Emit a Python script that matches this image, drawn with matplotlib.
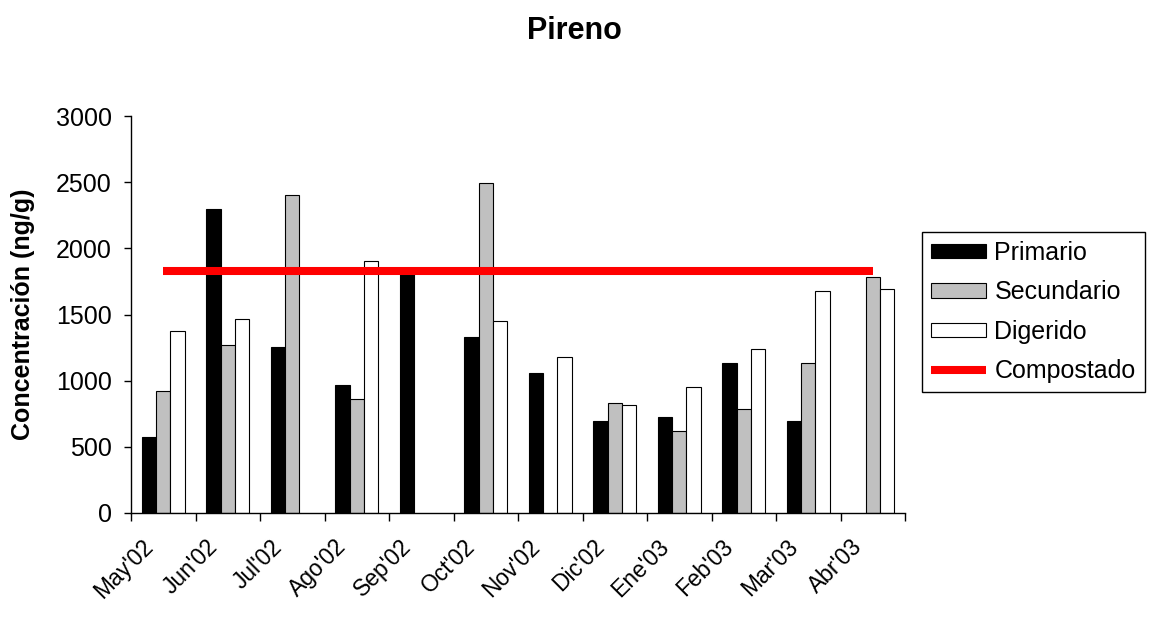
import numpy as np
import matplotlib
matplotlib.use('Agg')
import matplotlib.pyplot as plt

plt.rcParams['font.family'] = ['Liberation Sans', 'DejaVu Sans']

months = ["May'02", "Jun'02", "Jul'02", "Ago'02", "Sep'02", "Oct'02",
          "Nov'02", "Dic'02", "Ene'03", "Feb'03", "Mar'03", "Abr'03"]
nan = np.nan
primario = [576, 2300, 1258, 970, 1820, 1333, 1058, 697, 727, 1134, 697, nan]
secundario = [922, 1268, 2404, 859, nan, 2497, nan, 828, 616, 783, 1131, 1783]
digerido = [1374, 1465, nan, 1904, nan, 1449, 1177, 813, 949, 1237, 1677, 1692]
compostado = [1830] * 12

fig = plt.figure(figsize=(11.49, 6.17), dpi=100)
ax = fig.add_axes([131 / 1149, 1 - 513 / 617, 774 / 1149, 397 / 617])

x = np.arange(len(months))
w = 0.22
b1 = ax.bar(x - w, primario, w, color='black', edgecolor='black', linewidth=0.8, label='Primario')
b2 = ax.bar(x, secundario, w, color='#c0c0c0', edgecolor='black', linewidth=0.8, label='Secundario')
b3 = ax.bar(x + w, digerido, w, color='white', edgecolor='black', linewidth=0.8, label='Digerido')
l1, = ax.plot(x, compostado, color='#ff0000', linewidth=5.8, solid_capstyle='butt', label='Compostado', zorder=5)

ax.set_xlim(-0.5, 11.5)
ax.set_ylim(0, 3000)
ax.set_yticks(np.arange(0, 3001, 500))
ax.set_xticks(np.arange(-0.5, 12, 1))
ax.set_xticklabels([])
# invisible minor ticks carry the month names, a bit left of centre like Excel
ax.set_xticks(x - 0.34, minor=True)
ax.set_xticklabels(months, minor=True, rotation=45, ha='right', rotation_mode='anchor', fontsize=16.5)
ax.tick_params(axis='x', which='major', direction='out', length=6, width=1)
ax.tick_params(axis='x', which='minor', length=0, pad=16)
ax.tick_params(axis='y', direction='out', length=5, width=1, labelsize=18, pad=9)
for s in ['top', 'right']:
    ax.spines[s].set_visible(False)
for s in ['left', 'bottom']:
    ax.spines[s].set_linewidth(1)

ax.set_ylabel('Concentración (ng/g)', fontsize=18, fontweight='bold')
ax.yaxis.set_label_coords(-0.124, 0.5)

fig.text(0.5, 1 - 31 / 617, 'Pireno', fontsize=22, fontweight='bold', ha='center', va='center')

leg = fig.legend([b1, b2, b3, l1], ['Primario', 'Secundario', 'Digerido', 'Compostado'],
                 loc='upper left', bbox_to_anchor=(922 / 1149, 1 - 232 / 617),
                 fontsize=18, frameon=True, fancybox=False, framealpha=1,
                 edgecolor='black', borderpad=0.35, handlelength=2.2, handleheight=0.5,
                 handletextpad=0.35, labelspacing=0.62, borderaxespad=0)
leg.get_frame().set_linewidth(1)

plt.savefig('out.png', dpi=100)
